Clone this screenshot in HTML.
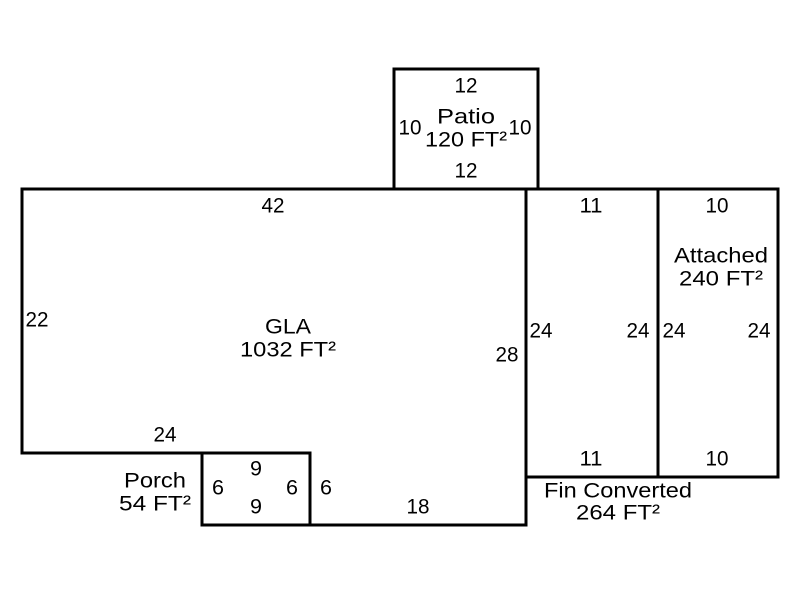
<!DOCTYPE html>
<html><head><meta charset="utf-8"><style>html,body{margin:0;padding:0;background:#fff}svg{display:block}</style></head><body>
<svg width="800" height="600" viewBox="0 0 800 600" xmlns="http://www.w3.org/2000/svg">
<rect width="800" height="600" fill="#fff"/>
<g fill="none" stroke="#000" stroke-width="3">
<polygon points="22,189 526,189 526,525 310,525 310,453 22,453"/>
<rect x="202" y="453" width="108" height="72"/>
<rect x="394" y="69" width="144" height="120"/>
<rect x="526" y="189" width="132" height="288"/>
<rect x="658" y="189" width="120" height="288"/>
</g>
<g font-family="Liberation Sans, Arial, sans-serif" font-size="21" text-anchor="middle" dominant-baseline="central" fill="#000" lengthAdjust="spacingAndGlyphs">
<text x="466" y="86" textLength="23" lengthAdjust="spacingAndGlyphs">12</text>
<text x="466" y="117" textLength="58" lengthAdjust="spacingAndGlyphs">Patio</text>
<text x="466" y="140" textLength="82" lengthAdjust="spacingAndGlyphs">120 FT²</text>
<text x="410" y="128" textLength="23" lengthAdjust="spacingAndGlyphs">10</text>
<text x="520" y="128" textLength="23" lengthAdjust="spacingAndGlyphs">10</text>
<text x="466" y="171" textLength="23" lengthAdjust="spacingAndGlyphs">12</text>
<text x="273" y="206" textLength="23" lengthAdjust="spacingAndGlyphs">42</text>
<text x="37" y="320" textLength="23" lengthAdjust="spacingAndGlyphs">22</text>
<text x="288" y="327" textLength="46" lengthAdjust="spacingAndGlyphs">GLA</text>
<text x="288" y="350" textLength="96" lengthAdjust="spacingAndGlyphs">1032 FT²</text>
<text x="507" y="355" textLength="23" lengthAdjust="spacingAndGlyphs">28</text>
<text x="165" y="435" textLength="23" lengthAdjust="spacingAndGlyphs">24</text>
<text x="155" y="481" textLength="62" lengthAdjust="spacingAndGlyphs">Porch</text>
<text x="155" y="504" textLength="72" lengthAdjust="spacingAndGlyphs">54 FT²</text>
<text x="256" y="469" textLength="12" lengthAdjust="spacingAndGlyphs">9</text>
<text x="256" y="507" textLength="12" lengthAdjust="spacingAndGlyphs">9</text>
<text x="218" y="488" textLength="12" lengthAdjust="spacingAndGlyphs">6</text>
<text x="292" y="488" textLength="12" lengthAdjust="spacingAndGlyphs">6</text>
<text x="326" y="488" textLength="12" lengthAdjust="spacingAndGlyphs">6</text>
<text x="418" y="507" textLength="23" lengthAdjust="spacingAndGlyphs">18</text>
<text x="591" y="206" textLength="23" lengthAdjust="spacingAndGlyphs">11</text>
<text x="541" y="331" textLength="23" lengthAdjust="spacingAndGlyphs">24</text>
<text x="638" y="331" textLength="23" lengthAdjust="spacingAndGlyphs">24</text>
<text x="591" y="459" textLength="23" lengthAdjust="spacingAndGlyphs">11</text>
<text x="618" y="491" textLength="148" lengthAdjust="spacingAndGlyphs">Fin Converted</text>
<text x="618" y="513" textLength="84" lengthAdjust="spacingAndGlyphs">264 FT²</text>
<text x="717" y="206" textLength="23" lengthAdjust="spacingAndGlyphs">10</text>
<text x="721" y="256" textLength="94" lengthAdjust="spacingAndGlyphs">Attached</text>
<text x="721" y="279" textLength="84" lengthAdjust="spacingAndGlyphs">240 FT²</text>
<text x="674" y="331" textLength="23" lengthAdjust="spacingAndGlyphs">24</text>
<text x="759" y="331" textLength="23" lengthAdjust="spacingAndGlyphs">24</text>
<text x="717" y="459" textLength="23" lengthAdjust="spacingAndGlyphs">10</text>
</g>
</svg>
</body></html>
